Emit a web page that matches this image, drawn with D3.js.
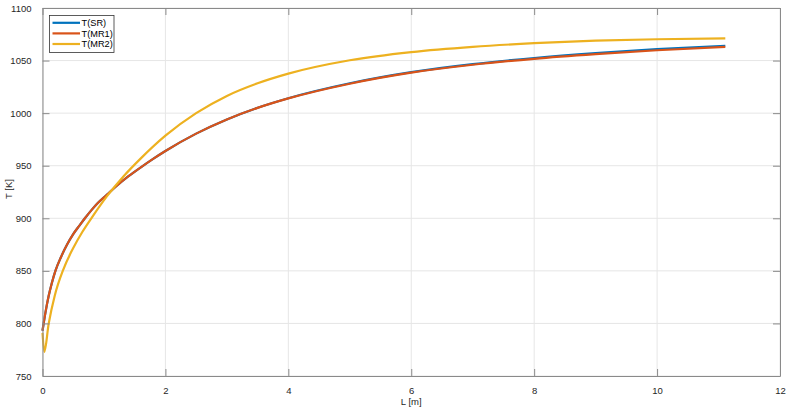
<!DOCTYPE html>
<html>
<head>
<meta charset="utf-8">
<script src="https://cdn.jsdelivr.net/npm/d3@7"></script>
<style>
  html, body { margin: 0; padding: 0; background: #ffffff; }
  svg { display: block; font-family: "Liberation Sans", Arial, Helvetica, sans-serif; }
</style>
</head>
<body>
<svg id="chart" width="789" height="414"></svg>
<script>
// ---- data ----
const seriesNames = ["T(SR)", "T(MR1)", "T(MR2)"];
const seriesColors = ["#0072BD", "#D95319", "#EDB120"];

const L_SR  = [0, 0.05, 0.1, 0.15, 0.21, 0.3, 0.4, 0.5, 0.6, 0.69, 0.8, 0.9, 1.05, 1.2, 1.4, 1.6, 1.8, 2, 2.5, 3, 3.5, 4, 5, 6, 7, 8, 9, 10, 11.11];
const T_SR  = [793, 811, 826, 838, 850, 863, 875, 885, 893, 900, 908, 914.5, 922.5, 930.5, 940, 948.5, 956.5, 964, 980.5, 994, 1005.1, 1014.2, 1028.4, 1039, 1046.6, 1052.4, 1057, 1060.8, 1064.1];

const L_MR1 = [0, 0.05, 0.1, 0.15, 0.21, 0.3, 0.4, 0.5, 0.6, 0.69, 0.8, 0.9, 1.05, 1.2, 1.4, 1.6, 1.8, 2, 2.5, 3, 3.5, 4, 5, 6, 7, 8, 9, 10, 11.11];
const T_MR1 = [793, 811, 826, 838, 850, 863, 875, 885, 893, 900, 908, 914.5, 922.5, 930.5, 940, 948.5, 956.5, 964, 980.5, 994, 1005, 1014, 1028, 1038.5, 1046, 1051.7, 1056.1, 1059.8, 1063.1];

const L_MR2 = [0, 0.03, 0.1, 0.2, 0.34, 0.5, 0.65, 0.83, 1.05, 1.32, 1.6, 2, 2.5, 3, 3.5, 4, 5, 6, 7, 8, 9, 10, 11.11];
const T_MR2 = [791, 773, 799.6, 826.6, 851.5, 871.7, 887.2, 903, 921, 940, 957, 978.6, 1000, 1016.4, 1028.4, 1037.6, 1050.3, 1058.1, 1063.1, 1066.5, 1068.9, 1070.3, 1071.2];

const xTicks = [0, 2, 4, 6, 8, 10, 12];
const yTicks = [750, 800, 850, 900, 950, 1000, 1050, 1100];
const xLabel = "L [m]";
const yLabel = "T [K]";

// ---- chart ----
const svg = d3.select("#chart");
const pLeft = 42.5, pRight = 780, pTop = 8, pBottom = 376;

const x = d3.scaleLinear().domain([0, 12]).range([pLeft, pRight]);
const y = d3.scaleLinear().domain([750, 1100]).range([pBottom, pTop]);

const axisColor = "#8a8a8a";
const textColor = "#262626";

// grid
const grid = svg.append("g");
grid.selectAll("line.gx").data(xTicks).join("line")
  .attr("x1", d => x(d)).attr("x2", d => x(d))
  .attr("y1", pTop).attr("y2", pBottom)
  .attr("stroke", "#e6e6e6").attr("stroke-width", 1);
grid.selectAll("line.gy").data(yTicks).join("line")
  .attr("x1", pLeft).attr("x2", pRight)
  .attr("y1", d => y(d)).attr("y2", d => y(d))
  .attr("stroke", "#e6e6e6").attr("stroke-width", 1);

// lines
const data = [
  L_SR.map((l, i) => [l, T_SR[i]]),
  L_MR1.map((l, i) => [l, T_MR1[i]]),
  L_MR2.map((l, i) => [l, T_MR2[i]])
];
const line = d3.line().x(d => x(d[0])).y(d => y(d[1])).curve(d3.curveMonotoneX);
svg.append("g").selectAll("path").data(data).join("path")
  .attr("d", line)
  .attr("fill", "none")
  .attr("stroke", (d, i) => seriesColors[i])
  .attr("stroke-width", 2.2)
  .attr("stroke-linejoin", "round");

// axes (inner ticks, box)
const tickLen = 7;
const fmt = d3.format("d");
const xAxisB = d3.axisBottom(x).tickValues(xTicks).tickFormat(fmt).tickSizeInner(-tickLen).tickSizeOuter(0).tickPadding(11);
const xAxisT = d3.axisTop(x).tickValues(xTicks).tickSizeInner(-tickLen).tickSizeOuter(0).tickFormat("");
const yAxisL = d3.axisLeft(y).tickValues(yTicks).tickFormat(fmt).tickSizeInner(-tickLen).tickSizeOuter(0).tickPadding(11);
const yAxisR = d3.axisRight(y).tickValues(yTicks).tickSizeInner(-tickLen).tickSizeOuter(0).tickFormat("");

function styleAxis(g) {
  g.select(".domain").attr("stroke", axisColor).attr("stroke-width", 1);
  g.selectAll(".tick line").attr("stroke", axisColor).attr("stroke-width", 1);
  g.selectAll(".tick text").attr("fill", textColor).style("font-size", "9.5px")
   .style("font-family", "'Liberation Sans', Arial, Helvetica, sans-serif");
}
svg.append("g").attr("transform", `translate(0,${pBottom})`).call(xAxisB).call(styleAxis);
svg.append("g").attr("transform", `translate(0,${pTop})`).call(xAxisT).call(styleAxis);
svg.append("g").attr("transform", `translate(${pLeft},0)`).call(yAxisL).call(styleAxis);
svg.append("g").attr("transform", `translate(${pRight},0)`).call(yAxisR).call(styleAxis);

// axis labels
svg.append("text").attr("x", (pLeft + pRight) / 2).attr("y", 405)
  .attr("text-anchor", "middle").attr("fill", textColor).style("font-size", "9.5px").text(xLabel);
svg.append("text").attr("transform", `translate(11.5,${(pTop + pBottom) / 2 - 3}) rotate(-90)`)
  .attr("text-anchor", "middle").attr("fill", textColor).style("font-size", "9.5px").text(yLabel);

// legend
const lg = svg.append("g");
lg.append("rect").attr("x", 49.5).attr("y", 15.5).attr("width", 64.5).attr("height", 37)
  .attr("fill", "#ffffff").attr("stroke", "#333333").attr("stroke-width", 0.8);
seriesNames.forEach((name, i) => {
  const yy = 22.8 + i * 10.6;
  lg.append("line").attr("x1", 52.5).attr("x2", 80).attr("y1", yy).attr("y2", yy)
    .attr("stroke", seriesColors[i]).attr("stroke-width", 2.2);
  lg.append("text").attr("x", 81.6).attr("y", yy + 3.2).attr("fill", "#000000")
    .style("font-size", "9.2px").text(name);
});
</script>
</body>
</html>
